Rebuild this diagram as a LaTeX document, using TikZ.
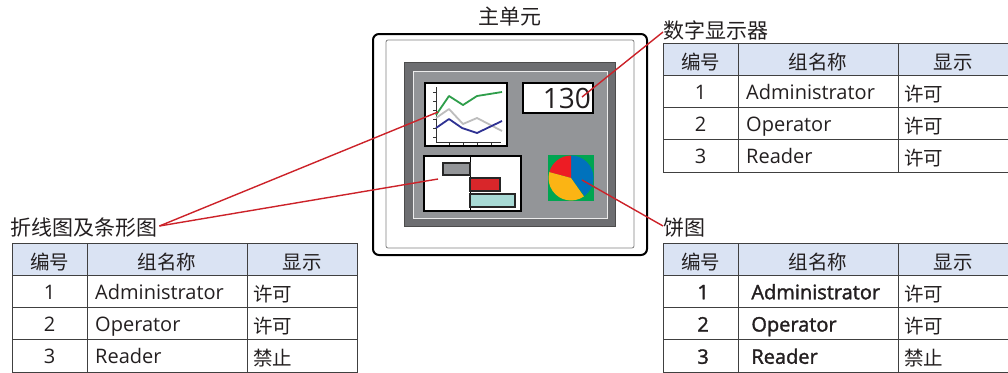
\documentclass[tikz,border=0pt]{standalone}
\usepackage{fontspec}
\setmainfont{Open Sans}
\newfontfamily\cjk{Noto Sans CJK SC}
\newfontfamily\fakeb[FakeBold=1.6]{Open Sans}
\definecolor{txt}{HTML}{231F20}
\definecolor{hdrfill}{HTML}{DAE3F3}
\definecolor{tblline}{HTML}{404040}
\definecolor{conn}{HTML}{CC2229}
\definecolor{scrdark}{HTML}{6D6E71}
\definecolor{scrmid}{HTML}{939598}
\definecolor{lgreen}{HTML}{2E9E4A}
\definecolor{lgrey}{HTML}{BDBDBD}
\definecolor{lnavy}{HTML}{2E3192}
\definecolor{bred}{HTML}{D9262A}
\definecolor{bcyan}{HTML}{A8DAD5}
\definecolor{pgreen}{HTML}{00A551}
\definecolor{pblue}{HTML}{0072BC}
\definecolor{pred}{HTML}{ED1C24}
\definecolor{pyellow}{HTML}{FBB414}
\newcommand\permtable[5]{%
\begin{scope}[shift={(#1,#2)}]
\fill[hdrfill] (0,0) rectangle (345,32.25);
\draw[tbl] (0,0) rectangle (345,129);
\foreach \yy in {32.25,64.5,96.75} \draw[tbl] (0,\yy) -- (345,\yy);
\foreach \xx in {75,235} \draw[tbl] (\xx,0) -- (\xx,129);
\node[ccell,anchor=base] (#3h1) at (37.5,26) {编号};
\node[ccell,anchor=base] (#3h2) at (155,26) {组名称};
\node[ccell,anchor=base] (#3h3) at (290,26) {显示};
\node[cell,anchor=base] (#3a1) at (37.5,56.25) {#5 1};
\node[cell,anchor=base west] (#3a2) at (83,56.25) {#5 Administrator};
\node[ccell,anchor=base west] (#3a3) at (241,58.25) {许可};
\node[cell,anchor=base] (#3b1) at (37.5,88.5) {#5 2};
\node[cell,anchor=base west] (#3b2) at (83,88.5) {#5 Operator};
\node[ccell,anchor=base west] (#3b3) at (241,90.5) {许可};
\node[cell,anchor=base] (#3c1) at (37.5,120.75) {#5 3};
\node[cell,anchor=base west] (#3c2) at (83,120.75) {#5 Reader};
\node[ccell,anchor=base west] (#3c3) at (241,122.75) {#4};
\end{scope}}
\begin{document}
\begin{tikzpicture}[x=1pt,y=-1pt,
  tbl/.style={draw=tblline,line width=1pt},
  cell/.style={inner sep=0pt,text=txt,font=\fontsize{20}{22}\selectfont},
  ccell/.style={inner sep=0pt,text=txt,font=\cjk\fontsize{19.5}{22}\selectfont},
  lbl/.style={inner sep=0pt,text=txt,font=\cjk\fontsize{21}{24}\selectfont},
  connector/.style={draw=conn,line width=1.4pt},
  panel/.style={fill=white,draw=black,line width=1.5pt},
  cline/.style={line width=1.8pt,line join=round}]
\useasboundingbox (0,0) rectangle (1008,372);
% main unit
\node[lbl] (mainlbl) at (510,17) {主单元};
\draw[line width=2pt,rounded corners=6pt,fill=white] (373,34) rectangle (647,255);
\draw[draw=gray,line width=0.8pt,rounded corners=2pt] (386,40) rectangle (634,248);
\draw[fill=scrdark,draw=black!70,line width=0.8pt] (404,62) rectangle (615,226);
\draw[fill=scrmid,draw=white!85!gray,line width=1pt] (413,71) rectangle (607,218);
% line chart
\draw[panel] (425,83) rectangle (507,146);
\draw[black!80,line width=0.6pt] (436,87) -- (436,142) -- (501,142);
\foreach \ty in {92,101,110,119,128,137} \draw[black!80,line width=0.6pt] (433,\ty) -- (436,\ty);
\foreach \tx in {449,463,477,491} \draw[black!80,line width=0.6pt] (\tx,142) -- (\tx,145);
\draw[cline,lgreen] (436,115) -- (449,96) -- (463,105) -- (477,96) -- (502,92);
\draw[cline,lgrey] (436,118) -- (449,109) -- (463,124) -- (477,118) -- (502,131);
\draw[cline,lnavy] (436,128) -- (449,119) -- (462,128) -- (477,133) -- (502,121);
% numeric display
\draw[panel] (523,83) rectangle (593,113);
\node[inner sep=0pt,anchor=base east,text=txt,font=\fontsize{28}{30}\selectfont] (num) at (591,108) {130};
% bar chart
\draw[panel] (424,156) rectangle (521,211);
\draw[black,line width=1pt] (470,156) -- (470,211);
\draw[fill=scrmid,draw=black!85,line width=1.2pt] (443,163) rectangle (470,175);
\draw[fill=bred,draw=black!85,line width=1.2pt] (470,178) rectangle (500,191);
\draw[fill=bcyan,draw=black!85,line width=1.2pt] (470,194) rectangle (515,207);
% pie chart
\fill[pgreen] (548,155) rectangle (594,201);
\coordinate (pc) at (571,178);
\fill[pblue] (pc) -- ++(0,-22.5) arc[start angle=-90,end angle=53,radius=22.5] -- cycle;
\fill[pred] (pc) -- ++(-21.7,-5.8) arc[start angle=-165,end angle=-90,radius=22.5] -- cycle;
\fill[pyellow] (pc) -- ++(12.9,18.4) arc[start angle=55,end angle=195,radius=22.5] -- cycle;
% targets
\coordinate (tline) at (438,112);
\coordinate (tbar) at (438,179);
\coordinate (tnum) at (582,97);
\coordinate (tpie) at (582,180);
% labels
\node[lbl,anchor=west] (lblchart) at (10,228) {折线图及条形图};
\node[lbl,anchor=west] (lblnum) at (663,30) {数字显示器};
\node[lbl,anchor=west] (lblpie) at (663,228) {饼图};
% connectors
\coordinate (cA) at ([yshift=2pt]lblchart.east);
\draw[connector] ([xshift=2pt]cA) -- (tline);
\draw[connector] ([xshift=2pt]cA) -- (tbar);
\draw[connector] ([yshift=-2pt]lblnum.west) -- (tnum);
\draw[connector] ([yshift=2pt]lblpie.west) -- (tpie);
% tables
\permtable{12}{243}{L}{禁止}{}
\permtable{663}{43}{N}{许可}{}
\permtable{663}{243}{P}{禁止}{\fakeb}
\end{tikzpicture}
\end{document}
